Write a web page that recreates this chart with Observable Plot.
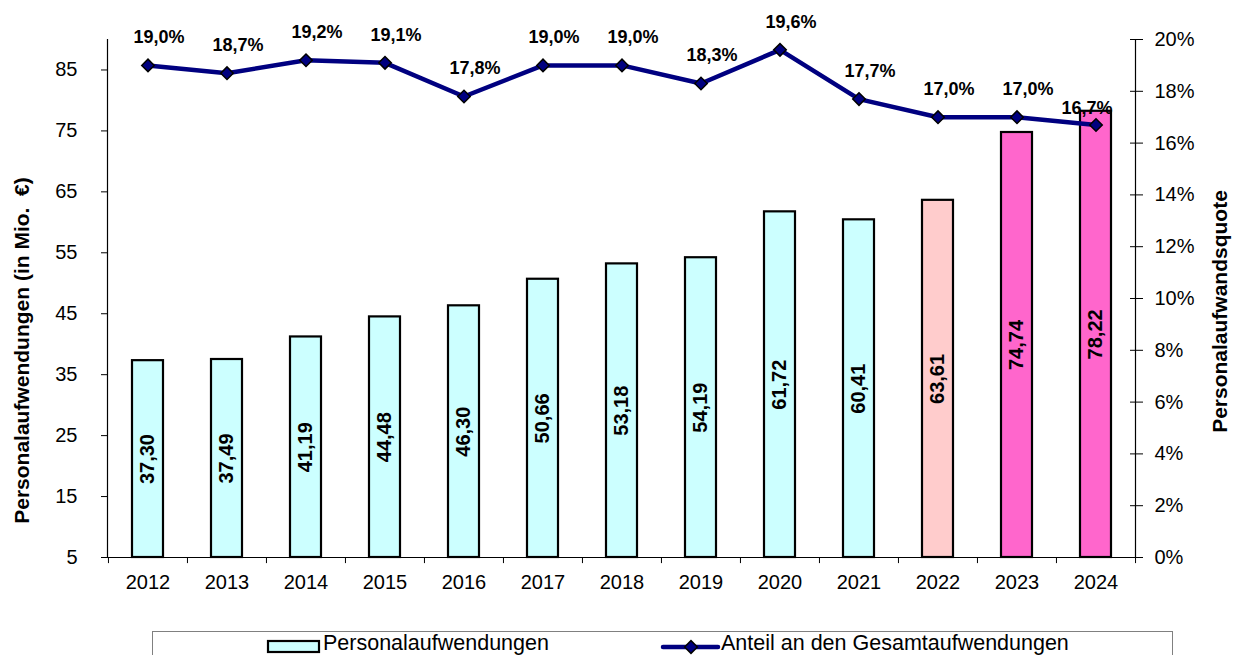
<!DOCTYPE html>
<html>
<head>
<meta charset="utf-8">
<script src="https://cdn.jsdelivr.net/npm/d3@7"></script>
<script src="https://cdn.jsdelivr.net/npm/@observablehq/plot@0.6"></script>
<style>
  html, body { margin: 0; padding: 0; background: #fff; }
  body { font-family: "Liberation Sans", Arial, sans-serif; width: 1235px; height: 655px; overflow: hidden; position: relative; }
  #legend { position: absolute; left: 152px; top: 631px; width: 1019px; height: 40px; border: 1px solid #808080; border-bottom: none; }
  .lg { position: absolute; font-size: 21.5px; color: #000; top: 0px; line-height: 23px; }
</style>
</head>
<body>
<div id="chart"></div>
<div id="legend"></div>
<script>
// ---- data ----
const years = ["2012","2013","2014","2015","2016","2017","2018","2019","2020","2021","2022","2023","2024"];
const personalaufwendungen = [37.30, 37.49, 41.19, 44.48, 46.30, 50.66, 53.18, 54.19, 61.72, 60.41, 63.61, 74.74, 78.22];
const quote = [19.0, 18.7, 19.2, 19.1, 17.8, 19.0, 19.0, 18.3, 19.6, 17.7, 17.0, 17.0, 16.7];
const kind = ["Ist","Ist","Ist","Ist","Ist","Ist","Ist","Ist","Ist","Ist","Hochrechnung","Plan","Plan"];
const leftTicks = [5, 15, 25, 35, 45, 55, 65, 75, 85];
const rightTicks = [0, 2, 4, 6, 8, 10, 12, 14, 16, 18, 20];
const leftTitle = "Personalaufwendungen (in Mio.  €)";
const rightTitle = "Personalaufwandsquote";
const legendBar = "Personalaufwendungen";
const legendLine = "Anteil an den Gesamtaufwendungen";

// ---- build ----
const yMin = 5, yMax = 90, pMax = 20;
const toLeft = p => yMin + p / pMax * (yMax - yMin);
const toPct = v => Math.round((v - yMin) / (yMax - yMin) * pMax);
const rows = years.map((y, i) => ({year: y, v: personalaufwendungen[i], q: quote[i], k: kind[i], qy: toLeft(quote[i])}));
const de1 = d3.format(".1f"), de2 = d3.format(".2f");
const fmtPct = q => de1(q).replace(".", ",") + "%";
const fmtVal = v => de2(v).replace(".", ",");

const W = 1235, mL = 107, mR = 100;
const bw = (W - mL - mR) / years.length;
const colors = {"Ist": "#CCFFFF", "Hochrechnung": "#FFCCCC", "Plan": "#FF66CC"};

const chart = Plot.plot({
  width: W,
  height: 620,
  marginLeft: mL,
  marginRight: mR,
  marginTop: 39,
  marginBottom: 63,
  style: {fontFamily: "Liberation Sans, Arial, sans-serif", fontSize: "20px", color: "#000", background: "#fff"},
  x: {domain: years, padding: 0, axis: null},
  y: {domain: [yMin, yMax], axis: null},
  marks: [
    Plot.barY(rows, {x: "year", y1: yMin, y2: "v", fill: d => colors[d.k], stroke: "#000", strokeWidth: 2.2, insetLeft: 24, insetRight: 24}),
    Plot.text(rows, {x: "year", y: d => (yMin + d.v) / 2, text: d => fmtVal(d.v), rotate: -90, fontWeight: "bold", fontSize: 20, fill: "#000"}),
    Plot.ruleY([yMin], {stroke: "#000", strokeWidth: 1.2}),
    Plot.frame({anchor: "left", stroke: "#000", strokeWidth: 1.2}),
    Plot.frame({anchor: "right", stroke: "#000", strokeWidth: 1.2}),
    // category boundary ticks
    Plot.ruleX(years, {x: d => d, dx: -bw / 2, y1: yMin, y2: yMin - 1, stroke: "#000", strokeWidth: 1}),
    Plot.ruleX(years.slice(-1), {x: d => d, dx: bw / 2, y1: yMin, y2: yMin - 1, stroke: "#000", strokeWidth: 1}),
    Plot.axisX({tickSize: 0, tickPadding: 17, fontSize: 20, label: null}),
    Plot.axisY(leftTicks, {anchor: "left", tickSize: 6, tickPadding: 24, fontSize: 20, label: null}),
    Plot.axisY(rightTicks.map(toLeft), {anchor: "right", tickSize: 7, tickPadding: 12, fontSize: 20, label: null, tickFormat: v => toPct(v) + "%"}),
    Plot.axisY(rightTicks.map(toLeft), {anchor: "right", tickSize: -6, tickFormat: () => "", label: null}),
    // line
    Plot.line(rows, {x: "year", y: "qy", stroke: "#000080", strokeWidth: 4.5}),
    Plot.dot(rows, {x: "year", y: "qy", symbol: "square", rotate: 45, r: 5, fill: "#000080", stroke: "#000", strokeWidth: 1.5}),
    Plot.text(rows.slice(0, -1), {x: "year", y: "qy", text: d => fmtPct(d.q), dx: 11, dy: -28, fontWeight: "bold", fontSize: 18, fill: "#000"}),
    Plot.text(rows.slice(-1), {x: "year", y: "qy", text: d => fmtPct(d.q), dx: -9, dy: -17, fontWeight: "bold", fontSize: 18, fill: "#000"}),
    // axis titles
    Plot.text([leftTitle], {frameAnchor: "left", textAnchor: "middle", text: d => d, rotate: -90, dx: -85, dy: 52, fontWeight: "bold", fontSize: 21, fill: "#000"}),
    Plot.text([rightTitle], {frameAnchor: "right", textAnchor: "middle", text: d => d, rotate: -90, dx: 85, dy: 13, fontWeight: "bold", fontSize: 21, fill: "#000"})
  ]
});
document.getElementById("chart").appendChild(chart);

// ---- legend ----
const lg = document.getElementById("legend");
lg.innerHTML = `
  <svg width="1019" height="30" style="position:absolute;left:0;top:0">
    <rect x="115" y="9" width="51" height="11" fill="${colors.Ist}" stroke="#000" stroke-width="2.2"/>
    <line x1="510" y1="15" x2="565" y2="15" stroke="#000080" stroke-width="4.5" stroke-linecap="round"/>
    <rect x="533.5" y="10.5" width="9" height="9" fill="#000080" stroke="#000" stroke-width="1.5" transform="rotate(45 538 15)"/>
  </svg>
  <span class="lg" style="left:170px">${legendBar}</span>
  <span class="lg" style="left:568px">${legendLine}</span>`;
</script>
</body>
</html>
